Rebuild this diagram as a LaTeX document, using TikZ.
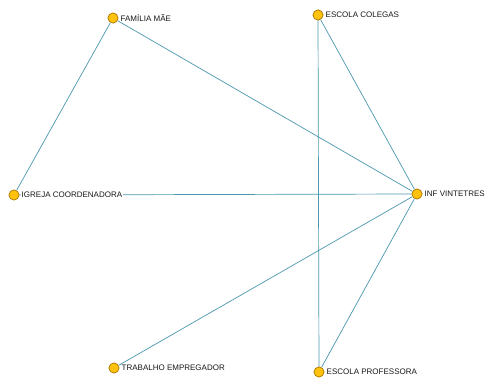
\documentclass[tikz,border=0pt]{standalone}
\usepackage{fontspec}
\setmainfont{Liberation Sans}
\definecolor{edgec}{HTML}{4A98B0}
\definecolor{nodefill}{HTML}{FFC20E}
\definecolor{nodeline}{HTML}{B07A00}
\tikzset{
  vert/.style={circle,draw=nodeline,fill=nodefill,line width=0.6pt,minimum size=10pt,inner sep=0pt},
  lab/.style={anchor=west,font=\fontsize{8}{9}\selectfont,inner sep=0.5pt,text=black!90},
  edge/.style={draw=edgec,line width=0.7pt}
}
\begin{document}
\begin{tikzpicture}[x=1pt,y=-1pt]
\useasboundingbox[fill=white] (0,0) rectangle (485,379);
\node[vert] (fam) at (113,18) {};
\node[vert] (col) at (318,15) {};
\node[vert] (igr) at (14,195) {};
\node[vert] (inf) at (417,194) {};
\node[vert] (tra) at (114,368) {};
\node[vert] (pro) at (319,372) {};
\draw[edge] (fam) -- (igr);
\draw[edge] (fam) -- (inf);
\draw[edge] (col) -- (inf);
\draw[edge] (col) -- (pro);
\draw[edge] (igr) -- (inf);
\draw[edge] (tra) -- (inf);
\draw[edge] (pro) -- (inf);
\node[vert] at (fam) {};
\node[vert] at (col) {};
\node[vert] at (igr) {};
\node[vert] at (inf) {};
\node[vert] at (tra) {};
\node[vert] at (pro) {};
\node[lab,fill=white] (lfam) at (120,18) {FAMÍLIA MÃE};
\node[lab,fill=white] (lcol) at (325,15) {ESCOLA COLEGAS};
\node[lab,fill=white] (ligr) at (21,195) {IGREJA COORDENADORA};
\node[lab,fill=white] (linf) at (424,194) {INF VINTETRES};
\node[lab,fill=white] (ltra) at (121,368) {TRABALHO EMPREGADOR};
\node[lab,fill=white] (lpro) at (326,372) {ESCOLA PROFESSORA};
\end{tikzpicture}
\end{document}
